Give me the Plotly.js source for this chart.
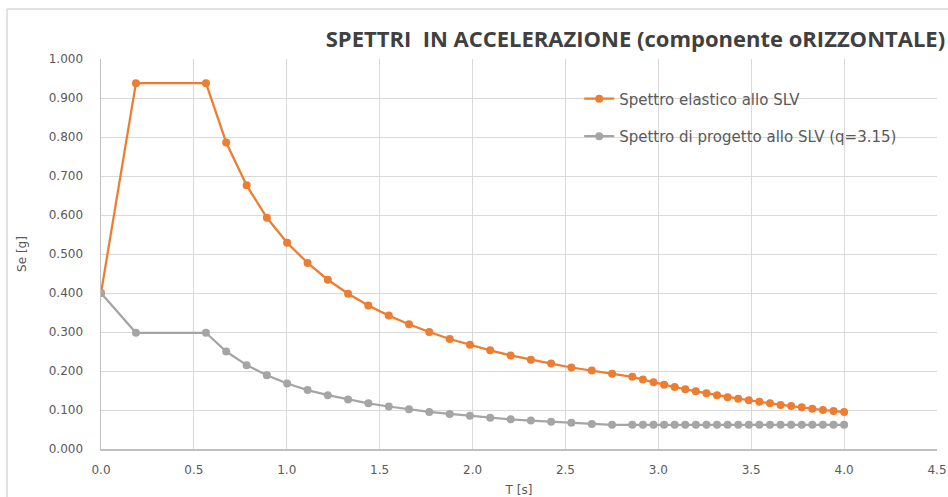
<!DOCTYPE html>
<html>
<head>
<meta charset="utf-8">
<script src="https://cdn.plot.ly/plotly-3.0.1.min.js"></script>
<style>html,body{margin:0;padding:0;background:#fff;}#chart{width:948px;height:497px;}</style>
</head>
<body>
<div id="chart"></div>
<script>
// Period T [s]
const periods = [0, 0.188, 0.565, 0.674, 0.784, 0.893, 1.002, 1.112, 1.221, 1.330, 1.439, 1.549, 1.658, 1.767, 1.877, 1.986, 2.095, 2.205, 2.314, 2.423, 2.532, 2.642, 2.751, 2.860,
  2.917, 2.974, 3.031, 3.088, 3.145, 3.202, 3.259, 3.316, 3.373, 3.430, 3.487, 3.544, 3.601, 3.658, 3.715, 3.772, 3.829, 3.886, 3.943, 4.000];
// Elastic spectrum SLV [g]
const elastic = [0.400, 0.938, 0.938, 0.786, 0.676, 0.593, 0.529, 0.477, 0.434, 0.398, 0.368, 0.342, 0.320, 0.300, 0.282, 0.267, 0.253, 0.240, 0.229, 0.219, 0.209, 0.201, 0.193, 0.185,
  0.178, 0.171, 0.165, 0.159, 0.153, 0.148, 0.143, 0.138, 0.133, 0.129, 0.125, 0.121, 0.117, 0.113, 0.110, 0.107, 0.103, 0.100, 0.0975, 0.0948];
// Design spectrum SLV (q=3.15) [g]
const design = [0.400, 0.298, 0.298, 0.250, 0.215, 0.189, 0.168, 0.151, 0.138, 0.127, 0.117, 0.109, 0.102, 0.095, 0.090, 0.085, 0.080, 0.076, 0.073, 0.070, 0.067, 0.064, 0.062, 0.062,
  0.062, 0.062, 0.062, 0.062, 0.062, 0.062, 0.062, 0.062, 0.062, 0.062, 0.062, 0.062, 0.062, 0.062, 0.062, 0.062, 0.062, 0.062, 0.062, 0.062];

const seriesNames = ['Spettro elastico allo SLV', 'Spettro di progetto allo SLV (q=3.15)'];
const titleText = 'SPETTRI  IN ACCELERAZIONE (componente oRIZZONTALE)';
const xTitle = 'T [s]';
const yTitle = 'Se [g]';

const font = '"DejaVu Sans", sans-serif';
const traces = [
  {x: periods, y: elastic, name: seriesNames[0], mode: 'lines+markers', legendgroup: 'a',
   line: {color: '#ED7D31', width: 2.25}, marker: {color: '#ED7D31', size: 8, symbol: 'circle'}},
  {x: periods, y: design, name: seriesNames[1], mode: 'lines+markers', legendgroup: 'b',
   line: {color: '#A5A5A5', width: 2.25}, marker: {color: '#A5A5A5', size: 8, symbol: 'circle'}}
];

const layout = {
  width: 948, height: 497,
  margin: {l: 101, r: 11, t: 59, b: 48},
  paper_bgcolor: '#fff', plot_bgcolor: '#fff',
  font: {family: font, color: '#595959', size: 11},
  title: {text: titleText, font: {family: '"Open Sans", sans-serif', size: 22, color: '#404040', weight: 'bold'},
          x: 0.997, xanchor: 'right', xref: 'container', y: 0.92, yanchor: 'middle'},
  showlegend: true,
  legend: {x: 0.572, y: 0.94, xanchor: 'left', yanchor: 'top', bgcolor: 'rgba(0,0,0,0)',
           font: {size: 15, color: '#595959', family: font}, traceorder: 'grouped', tracegroupgap: 15},
  xaxis: {range: [0, 4.5], dtick: 0.5, tick0: 0, tickformat: '.1f', showgrid: true, gridcolor: '#D9D9D9',
          gridwidth: 1, zeroline: false, showline: true, linecolor: '#BFBFBF', linewidth: 1.5, ticks: '',
          ticklabelstandoff: 9,
          tickfont: {size: 12, color: '#595959', family: font},
          title: {text: xTitle, font: {size: 12, color: '#595959', family: font}, standoff: 12}},
  yaxis: {range: [0, 1.0], dtick: 0.1, tick0: 0, tickformat: '.3f', showgrid: true, gridcolor: '#D9D9D9',
          gridwidth: 1, zeroline: false, showline: true, linecolor: '#BFBFBF', linewidth: 1.5, ticks: '',
          ticklabelstandoff: 14,
          tickfont: {size: 12, color: '#595959', family: font},
          title: {text: yTitle, font: {size: 12, color: '#595959', family: font}, standoff: 19}},
  shapes: [
    {type: 'line', xref: 'paper', yref: 'paper', x0: -0.1124, x1: 1.02, y0: 1.128, y1: 1.128, line: {color: '#D9D9D9', width: 1.5}},
    {type: 'line', xref: 'paper', yref: 'paper', x0: -0.1124, x1: -0.1124, y0: -0.2, y1: 1.128, line: {color: '#D9D9D9', width: 1.5}}
  ]
};

Plotly.newPlot('chart', traces, layout, {displayModeBar: false, staticPlot: true});
</script>
</body>
</html>
